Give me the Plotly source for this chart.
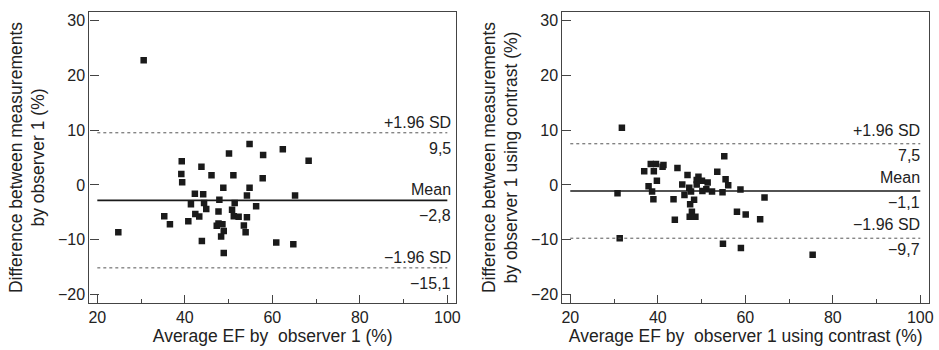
import plotly.graph_objects as go

# ---------------- data ----------------
# Left panel: observer 1 (no contrast)
left_avg = [54.8, 62.4, 50.1, 57.9, 68.3, 39.3, 43.8, 39.2, 46.1, 51.1, 57.8, 39.4,
            48.8, 54.8, 42.3, 44.2, 54.2, 65.2, 47.9, 41.4, 44.4, 51.4, 44.9, 56.3,
            50.8, 47.7, 35.3, 42.4, 43.3, 51.2, 52.3, 54.2, 40.8, 36.6, 47.7, 48.6,
            47.3, 53.5, 48.9, 53.9, 48.3, 43.9, 60.9, 64.8, 48.9, 30.6, 24.8]
left_diff = [7.45, 6.5, 5.75, 5.45, 4.4, 4.3, 3.3, 2.0, 1.75, 1.75, 1.2, 0.5,
             -0.5, -0.5, -1.6, -1.7, -1.9, -1.9, -2.7, -3.5, -3.3, -3.3, -4.4, -3.9,
             -4.5, -4.85, -5.7, -5.3, -5.75, -5.7, -5.8, -5.9, -6.6, -7.15, -7.0, -7.15,
             -7.45, -7.4, -8.4, -8.6, -9.4, -10.2, -10.5, -10.8, -12.4, 22.7, -8.6]

# Right panel: observer 1 using contrast
right_avg = [31.8, 55.2, 38.4, 39.6, 41.3, 41.1, 44.5, 36.9, 39.1, 53.6, 46.8, 49.3,
             48.9, 50.1, 55.5, 39.8, 51.4, 45.6, 56.1, 48.9, 37.9, 47.2, 47.6, 50.2,
             51.1, 52.4, 54.8, 58.9, 30.8, 38.7, 46.1, 39.0, 43.6, 48.3, 47.4, 47.8,
             47.3, 48.6, 58.1, 60.1, 43.9, 31.3, 54.9, 59.0, 64.4, 63.4, 75.4]
right_diff = [10.4, 5.25, 3.8, 3.8, 3.65, 3.3, 3.1, 2.5, 2.5, 2.4, 1.8, 1.5,
              0.9, 0.75, 1.05, 0.75, 0.45, 0.1, -0.05, 0.1, -0.25, -0.5, -1.2, -1.1,
              -0.8, -1.2, -1.35, -0.85, -1.5, -1.2, -1.85, -2.6, -2.6, -2.7, -3.5, -4.9,
              -5.8, -5.8, -4.9, -5.4, -6.35, -9.7, -10.7, -11.5, -2.3, -6.25, -12.7]

# Limits of agreement: [+1.96 SD, mean, -1.96 SD]
left_limits = [9.5, -2.8, -15.1]
right_limits = [7.5, -1.1, -9.7]
limit_names = ["+1.96 SD", "Mean", "\u22121.96 SD"]
left_limit_text = ["9,5", "\u22122,8", "\u221215,1"]
right_limit_text = ["7,5", "\u22121,1", "\u22129,7"]

x_tickvals = [20, 40, 60, 80, 100]
y_tickvals = [-20, -10, 0, 10, 20, 30]

left_xtitle = "Average EF by\u00a0 observer 1 (%)"
right_xtitle = "Average EF by\u00a0 observer 1 using contrast (%)"
left_ytitle = "Difference between measurements<br>by observer 1 (%)"
right_ytitle = "Difference between measurements<br>by observer 1 using contrast (%)"

# ---------------- style ----------------
W, H = 939, 350
FONT = "Liberation Sans"
TXT = "#222222"
AXC = "#444444"
LINE_X = [20, 100]
X_RANGE = [18.2, 102]
Y_RANGE = [-21.5, 31.5]
FS = 16
TFS = 17.5

fig = go.Figure()

panels = [
    ("x", "y", left_avg, left_diff, left_limits, left_limit_text, 6, (0, -5)),
    ("x2", "y2", right_avg, right_diff, right_limits, right_limit_text, 2, (3, -1)),
]

annotations = []
for xa, ya, xs, ys, lims, ltxt, xsh, (up_sh, dn_sh) in panels:
    fig.add_trace(go.Scatter(x=xs, y=ys, mode="markers", xaxis=xa, yaxis=ya,
                             marker=dict(symbol="square", size=6.5, color="#1a1a1a",
                                         line=dict(width=0)),
                             showlegend=False, hoverinfo="skip"))
    for i, v in enumerate(lims):
        if i == 1:
            ln = dict(color="#1a1a1a", width=1.6)
        else:
            ln = dict(color="#555555", width=1, dash="dot")
        fig.add_trace(go.Scatter(x=LINE_X, y=[v, v], mode="lines", xaxis=xa, yaxis=ya,
                                 line=ln, showlegend=False, hoverinfo="skip"))
        annotations.append(dict(x=LINE_X[1], y=v, xref=xa, yref=ya, text=limit_names[i],
                                showarrow=False, xanchor="right", yanchor="bottom",
                                xshift=xsh, yshift=up_sh,
                                font=dict(family=FONT, size=FS, color=TXT)))
        annotations.append(dict(x=LINE_X[1], y=v, xref=xa, yref=ya, text=ltxt[i],
                                showarrow=False, xanchor="right", yanchor="top",
                                xshift=xsh, yshift=dn_sh,
                                font=dict(family=FONT, size=FS, color=TXT)))

common_x = dict(range=X_RANGE, tickvals=x_tickvals, ticks="inside", ticklen=8,
                tickwidth=1, tickcolor=AXC, showline=True, linecolor=AXC, linewidth=1.2,
                mirror=True, showgrid=False, zeroline=False,
                minor=dict(ticks="inside", ticklen=4, dtick=10, tick0=0, tickcolor=AXC,
                           showgrid=False),
                tickfont=dict(family=FONT, size=FS, color=TXT), ticklabelstandoff=0,
                title_font=dict(family=FONT, size=TFS, color=TXT), title_standoff=4)
common_y = dict(range=Y_RANGE, tickvals=y_tickvals, ticks="inside", ticklen=9,
                tickwidth=1, tickcolor=AXC, showline=True, linecolor=AXC, linewidth=1.2,
                mirror=True, showgrid=False, zeroline=False,
                tickfont=dict(family=FONT, size=FS, color=TXT),
                title_font=dict(family=FONT, size=TFS, color=TXT), title_standoff=8)

fig.update_layout(
    width=W, height=H,
    margin=dict(l=0, r=0, t=0, b=0),
    paper_bgcolor="white", plot_bgcolor="white",
    xaxis=dict(domain=[89 / W, 458 / W], anchor="y", title_text=left_xtitle, **common_x),
    yaxis=dict(domain=[1 - 303 / H, 1 - 12 / H], anchor="x", title_text=left_ytitle, **common_y),
    xaxis2=dict(domain=[565 / W, 934 / W], anchor="y2", title_text=right_xtitle, **common_x),
    yaxis2=dict(domain=[1 - 303 / H, 1 - 12 / H], anchor="x2", title_text=right_ytitle, **common_y),
    annotations=annotations,
    font=dict(family=FONT, color=TXT),
)

fig.write_html("out.html", config={"displayModeBar": False},
               post_script="document.body.style.margin='0';document.body.style.overflow='hidden';")
